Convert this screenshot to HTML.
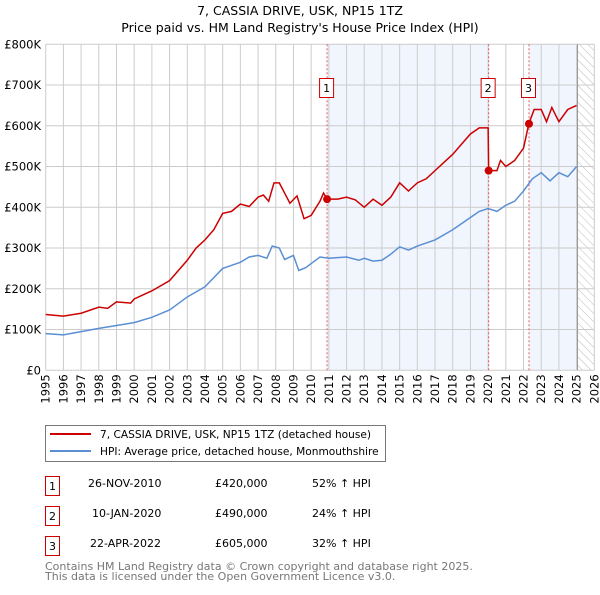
<!DOCTYPE html>
<html><head><meta charset="utf-8"><style>
body{margin:0;background:#fff;font-family:"Liberation Sans","DejaVu Sans",sans-serif}
svg text{font-family:"DejaVu Sans","Liberation Sans",sans-serif}
</style></head><body>
<svg id="c" width="600" height="590" xmlns="http://www.w3.org/2000/svg">
<defs><pattern id="hatch" width="6" height="6" patternUnits="userSpaceOnUse" patternTransform="rotate(-45)"><line x1="0" y1="0" x2="0" y2="6" stroke="#bbb" stroke-width="1"/></pattern></defs>
<text x="300" y="15" text-anchor="middle" font-size="12.5">7, CASSIA DRIVE, USK, NP15 1TZ</text>
<text x="300" y="32" text-anchor="middle" font-size="12.5">Price paid vs. HM Land Registry's House Price Index (HPI)</text>
<g id="plot"></g>
<g>
<rect x="45.5" y="425.5" width="340" height="36" fill="#fff" stroke="#777"/>
<line x1="50" y1="434" x2="91" y2="434" stroke="#cc0000" stroke-width="2"/>
<text x="100" y="438" font-size="10.6">7, CASSIA DRIVE, USK, NP15 1TZ (detached house)</text>
<line x1="50" y1="451" x2="91" y2="451" stroke="#5b8fd4" stroke-width="2"/>
<text x="100" y="455" font-size="10.6">HPI: Average price, detached house, Monmouthshire</text>
</g>
<g font-size="11">
<rect x="45.5" y="476.5" width="14" height="19" fill="#fff" stroke="#cc0000"/><text x="52.5" y="490" text-anchor="middle">1</text>
<text x="88" y="487">26-NOV-2010</text><text x="215" y="487">£420,000</text><text x="312" y="487">52% ↑ HPI</text>
<rect x="45.5" y="506.5" width="14" height="19" fill="#fff" stroke="#cc0000"/><text x="52.5" y="520" text-anchor="middle">2</text>
<text x="92" y="517">10-JAN-2020</text><text x="215" y="517">£490,000</text><text x="312" y="517">24% ↑ HPI</text>
<rect x="45.5" y="536.5" width="14" height="19" fill="#fff" stroke="#cc0000"/><text x="52.5" y="550" text-anchor="middle">3</text>
<text x="90" y="547">22-APR-2022</text><text x="215" y="547">£605,000</text><text x="312" y="547">32% ↑ HPI</text>
</g>
<text x="45" y="570" font-size="11" fill="#777">Contains HM Land Registry data © Crown copyright and database right 2025.</text>
<text x="45" y="580" font-size="11" fill="#777">This data is licensed under the Open Government Licence v3.0.</text>
</svg>
<script>
const yTicks=[0,100,200,300,400,500,600,700,800];
const yTickLabels=["£0","£100K","£200K","£300K","£400K","£500K","£600K","£700K","£800K"];
const xYears=[1995,1996,1997,1998,1999,2000,2001,2002,2003,2004,2005,2006,2007,2008,2009,2010,2011,2012,2013,2014,2015,2016,2017,2018,2019,2020,2021,2022,2023,2024,2025,2026];
const hpiT=[1995,1996,1997,1998,1999,2000,2001,2002,2003,2004,2005,2006,2006.5,2007,2007.5,2007.8,2008.2,2008.5,2009,2009.3,2009.7,2010,2010.5,2011,2012,2012.7,2013,2013.5,2014,2014.5,2015,2015.5,2016,2017,2018,2019,2019.5,2020,2020.5,2021,2021.5,2022,2022.5,2023,2023.5,2024,2024.5,2025];
const hpiV=[90,87,95,103,110,117,130,148,180,205,250,265,278,282,275,305,300,272,282,245,252,262,278,275,278,270,275,268,270,285,303,295,305,320,345,375,390,397,390,405,415,440,470,485,465,485,475,500];
const priceT=[1995,1996,1997,1998,1998.5,1999,1999.8,2000,2001,2002,2003,2003.5,2004,2004.5,2005,2005.5,2006,2006.5,2007,2007.3,2007.6,2007.9,2008.2,2008.5,2008.8,2009.2,2009.6,2010,2010.5,2010.7,2010.9,2011.5,2012,2012.5,2013,2013.5,2014,2014.5,2015,2015.5,2016,2016.5,2017,2017.5,2018,2018.5,2019,2019.5,2020.0,2020.03,2020.5,2020.7,2021,2021.5,2022,2022.3,2022.6,2023,2023.3,2023.6,2024,2024.5,2025];
const priceV=[137,133,140,155,152,168,165,175,195,220,270,300,320,345,385,390,408,402,425,430,415,460,460,435,410,428,372,380,415,435,420,420,425,418,400,420,405,425,460,440,460,470,490,510,530,555,580,595,595,490,490,515,500,515,545,605,640,640,610,645,610,640,650];
const saleT=[2010.9,2020.03,2022.31];
const saleV=[420,490,605];
const saleLabels=["1","2","3"];
const X0=45.7,X1=594.3,Y0=370.3,Y1=44.3;
const sx=t=>X0+(t-1995)*(X1-X0)/31;
const sy=v=>Y0-v*(Y0-Y1)/800;
const NS="http://www.w3.org/2000/svg";
const g=document.getElementById('plot');
function mk(tag,attrs,parent){const e=document.createElementNS(NS,tag);for(const k in attrs)e.setAttribute(k,attrs[k]);(parent||g).appendChild(e);return e;}
let e;
e=mk('rect',{x:sx(saleT[0]),y:Y1,width:sx(saleT[1])-sx(saleT[0]),height:Y0-Y1,fill:'#eef2fc',opacity:0.8});


e=mk('rect',{x:sx(saleT[2]),y:Y1,width:sx(2025.05)-sx(saleT[2]),height:Y0-Y1,fill:'#eef2fc',opacity:0.8});


e=mk('rect',{x:sx(2025.05),y:Y1,width:X1-sx(2025.05),height:Y0-Y1,fill:'url(#hatch)'});


xYears.forEach(y=>{e=mk('line',{x1:sx(y),x2:sx(y),y1:Y1,y2:Y0,stroke:'#ccc','stroke-width':1});


e=mk('text',{x:0,y:0,'font-size':11.5,'text-anchor':'end',transform:`translate(${sx(y)+4},${Y0+4}) rotate(-90)`});e.textContent=y;

});
yTicks.forEach((v,i)=>{e=mk('line',{x1:X0,x2:X1,y1:sy(v),y2:sy(v),stroke:'#ccc','stroke-width':1});


e=mk('text',{x:41,y:sy(v)+4,'font-size':11.5,'text-anchor':'end'});e.textContent=yTickLabels[i];

});
e=mk('line',{x1:sx(2025.05),x2:sx(2025.05),y1:Y1,y2:Y0,stroke:'#999','stroke-width':1});


saleT.forEach((t,i)=>{e=mk('line',{x1:sx(t),x2:sx(t),y1:Y1,y2:Y0,stroke:'#e06060','stroke-width':1,'stroke-dasharray':'2,2'});

});
e=mk('polyline',{points:hpiT.map((t,i)=>sx(t)+','+sy(hpiV[i])).join(' '),fill:'none',stroke:'#5b8fd4','stroke-width':1.5});


e=mk('polyline',{points:priceT.map((t,i)=>sx(t)+','+sy(priceV[i])).join(' '),fill:'none',stroke:'#cc0000','stroke-width':1.5});


saleT.forEach((t,i)=>{e=mk('circle',{cx:sx(t),cy:sy(saleV[i]),r:4,fill:'#cc0000'});


const bx=sx(t)-7;
e=mk('rect',{x:bx-0.5,y:78.5,width:14,height:19,fill:'#fff',stroke:'#cc0000'});


e=mk('text',{x:bx+6.5,y:92,'font-size':11,'text-anchor':'middle'});e.textContent=saleLabels[i];

});
</script>
</body></html>
